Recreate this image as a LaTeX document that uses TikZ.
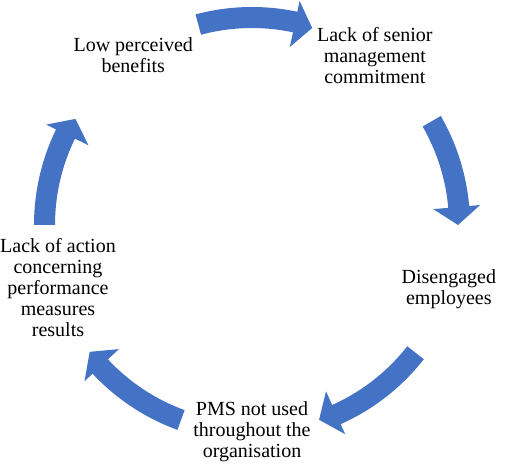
\documentclass[tikz,border=0pt]{standalone}
\usepackage{fontspec}
\setmainfont{Liberation Serif}
\usetikzlibrary{calc}
\definecolor{cycleblue}{HTML}{4472C4}
\tikzset{
    cause/.style={align=center, inner sep=0pt, font=\fontsize{20}{21}\selectfont},
    cyclefill/.style={fill=cycleblue}
}

\begin{document}
\begin{tikzpicture}[x=1pt, y=1pt]
    \useasboundingbox (0,0) rectangle (505,466);
    % Centre of the cycle
    \coordinate[] (O) at (252,241);

    % The five stages round the circle
    \node[cause] (senior) at ($(O)+(54:209)$) {Lack of senior\\management\\commitment};
    \node[cause] (disengaged) at ($(O)+(-18:207)$) {Disengaged\\employees};
    \node[cause] (pms) at ($(O)+(-90:207)$) {PMS not used\\throughout the\\organisation};
    \node[cause] (action) at ($(O)+(198:204)$) {Lack of action\\concerning\\performance\\measures\\results};
    \node[cause] (benefits) at ($(O)+(125:207)$) {Low perceived\\benefits};

    % Curved block arrows, tail -> head base -> tip
    \fill[cyclefill] ($(O)+(105:197)$) arc[start angle=105, end angle=78, radius=197] -- ($(O)+(78:182)$) -- ($(O)+(73:206)$) -- ($(O)+(78:229)$) -- ($(O)+(78:218)$) arc[start angle=78, end angle=105, radius=218] -- cycle;
    \fill[cyclefill] ($(O)+(30:197)$) arc[start angle=30, end angle=5, radius=197] -- ($(O)+(5:182)$) -- ($(O)+(0:206)$) -- ($(O)+(5:229)$) -- ($(O)+(5:218)$) arc[start angle=5, end angle=30, radius=218] -- cycle;
    \fill[cyclefill] ($(O)+(-38:197)$) arc[start angle=-38, end angle=-66, radius=197] -- ($(O)+(-66:182)$) -- ($(O)+(-71:206)$) -- ($(O)+(-66:229)$) -- ($(O)+(-66:218)$) arc[start angle=-66, end angle=-38, radius=218] -- cycle;
    \fill[cyclefill] ($(O)+(-110:197)$) arc[start angle=-110, end angle=-137, radius=197] -- ($(O)+(-137:182)$) -- ($(O)+(-142:206)$) -- ($(O)+(-137:229)$) -- ($(O)+(-137:218)$) arc[start angle=-137, end angle=-110, radius=218] -- cycle;
    \fill[cyclefill] ($(O)+(180:197)$) arc[start angle=180, end angle=154, radius=197] -- ($(O)+(154:182)$) -- ($(O)+(149:206)$) -- ($(O)+(154:229)$) -- ($(O)+(154:218)$) arc[start angle=154, end angle=180, radius=218] -- cycle;
\end{tikzpicture}
\end{document}
